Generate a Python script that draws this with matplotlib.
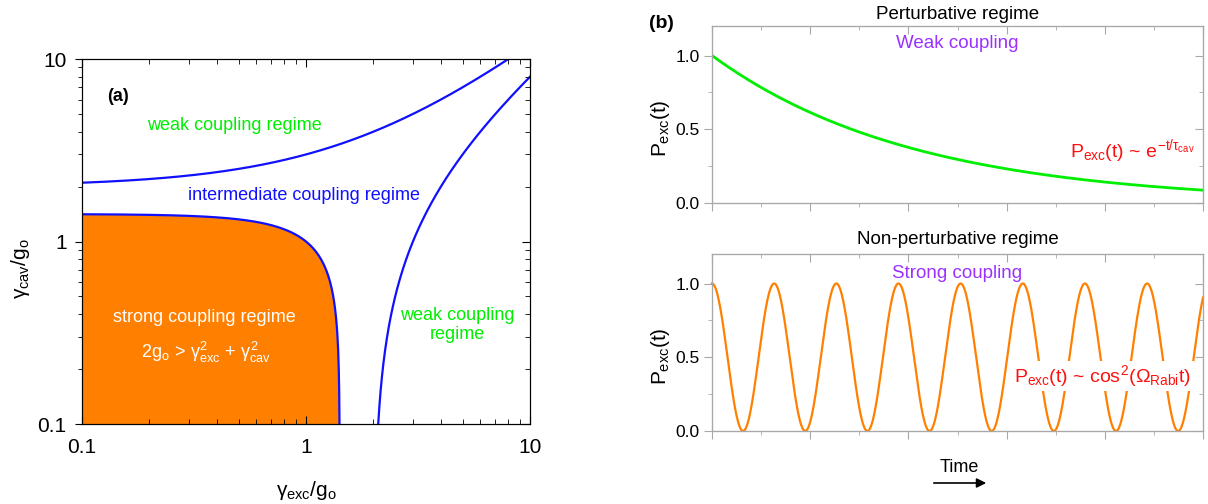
import numpy as np
import matplotlib
matplotlib.use('Agg')
import matplotlib.pyplot as plt
from matplotlib.ticker import LogLocator, FuncFormatter, MultipleLocator, NullFormatter

plt.rcParams['font.family'] = ['Liberation Sans', 'DejaVu Sans']
plt.rcParams['mathtext.fontset'] = 'custom'
plt.rcParams['mathtext.rm'] = 'Liberation Sans'
plt.rcParams['mathtext.it'] = 'Liberation Sans'
plt.rcParams['mathtext.sf'] = 'Liberation Sans'
plt.rcParams['mathtext.bf'] = 'Liberation Sans:bold'

# regime boundaries, in units of g_o
strong_radius = 1.414      # gamma_exc^2 + gamma_cav^2 = 2
weak_offset = 2.0          # |gamma_cav - gamma_exc| = 2
gamma_lim = [0.1, 10]

# time traces
t_end = 10.0
tau_cav = 4.1              # decay time for the exponential
omega_rabi = 2.482         # Rabi frequency for the cos^2 trace

orange = '#ff8000'
blue = '#1010ff'
green = '#00ee00'
red = '#ff1010'
purple = '#9b30ff'
grey = '#a8a8a8'

fig = plt.figure(figsize=(12.08, 5.04), dpi=100)

# ---------------- (a) coupling regimes ----------------
ax = fig.add_axes([0.0679, 0.1587, 0.3709, 0.7242])
ax.set_xscale('log')
ax.set_yscale('log')

th = np.linspace(np.arcsin(0.1 / strong_radius), np.arccos(0.1 / strong_radius), 400)
xc = strong_radius * np.cos(th)
yc = strong_radius * np.sin(th)
ax.fill(np.r_[xc, 0.1], np.r_[yc, 0.1], color=orange, lw=0)
ax.plot(xc, yc, color=blue, lw=1.6)

xu = np.geomspace(0.1, 8.5, 300)
ax.plot(xu, xu + weak_offset, color=blue, lw=1.6)
yr = np.geomspace(0.1, 8.5, 300)
ax.plot(yr + weak_offset, yr, color=blue, lw=1.6)

ax.set_xlim(gamma_lim)
ax.set_ylim(gamma_lim)

fmt = FuncFormatter(lambda v, p: '%g' % v)
for axis in [ax.xaxis, ax.yaxis]:
    axis.set_major_locator(LogLocator(base=10))
    axis.set_minor_locator(LogLocator(base=10, subs=np.arange(2, 10)))
    axis.set_major_formatter(fmt)
    axis.set_minor_formatter(NullFormatter())
ax.tick_params(axis='x', which='both', direction='in', top=True, labelsize=15, pad=10)
ax.tick_params(axis='x', which='major', length=6)
ax.tick_params(axis='x', which='minor', length=3.5)
ax.tick_params(axis='y', which='both', direction='out', labelsize=15, pad=6)
ax.tick_params(axis='y', which='major', length=5)
ax.tick_params(axis='y', which='minor', length=3)

axr = ax.twinx()
axr.set_yscale('log')
axr.set_ylim(gamma_lim)
axr.yaxis.set_minor_locator(LogLocator(base=10, subs=np.arange(2, 10)))
axr.tick_params(axis='y', which='both', direction='in', labelright=False)
axr.tick_params(axis='y', which='major', length=6)
axr.tick_params(axis='y', which='minor', length=3.5)

ax.set_xlabel(r'$\gamma_{exc}/g_o$', fontsize=15)
ax.xaxis.set_label_coords(0.5, -0.15)
ax.set_ylabel(r'$\gamma_{cav}/g_o$', fontsize=15)
ax.yaxis.set_label_coords(-0.112, 0.425)

ax.text(0.08, 0.896, '(a)', transform=ax.transAxes, fontsize=13, fontweight='bold',
        ha='center', va='center')
ax.text(0.341, 0.819, 'weak coupling regime', transform=ax.transAxes, fontsize=13,
        color=green, ha='center', va='center')
ax.text(0.496, 0.625, 'intermediate coupling regime', transform=ax.transAxes, fontsize=13,
        color=blue, ha='center', va='center')
ax.text(0.274, 0.293, 'strong coupling regime', transform=ax.transAxes, fontsize=13,
        color='white', ha='center', va='center')
ax.text(0.276, 0.195, r'$2g_o\,>\,\gamma^2_{exc}\,+\,\gamma^2_{cav}$', transform=ax.transAxes,
        fontsize=13, color='white', ha='center', va='center')
ax.text(0.837, 0.271, 'weak coupling\nregime', transform=ax.transAxes, fontsize=13,
        color=green, ha='center', va='center', linespacing=1.2)


# ---------------- (b) time evolution ----------------
def style_time_axes(a):
    a.set_xlim(0, t_end)
    a.set_ylim(0, 1.2)
    a.xaxis.set_major_locator(MultipleLocator(2))
    a.xaxis.set_minor_locator(MultipleLocator(1))
    a.yaxis.set_major_locator(MultipleLocator(0.5))
    a.yaxis.set_minor_locator(MultipleLocator(0.25))
    a.set_yticks([0, 0.5, 1.0])
    a.yaxis.set_major_formatter(FuncFormatter(lambda v, p: '%.1f' % v))
    a.tick_params(axis='both', which='both', direction='out', color=grey,
                  labelsize=12.5, pad=3)
    a.tick_params(axis='x', labelbottom=False)
    a.tick_params(which='major', length=6)
    a.tick_params(which='minor', length=3)
    for s in a.spines.values():
        s.set_color(grey)

    ar = a.twinx()
    ar.set_ylim(0, 1.2)
    ar.yaxis.set_major_locator(MultipleLocator(0.5))
    ar.yaxis.set_minor_locator(MultipleLocator(0.25))
    ar.tick_params(axis='y', which='both', direction='in', color=grey, labelright=False)
    ar.tick_params(which='major', length=6)
    ar.tick_params(which='minor', length=3)
    at = a.twiny()
    at.set_xlim(0, t_end)
    at.xaxis.set_major_locator(MultipleLocator(2))
    at.xaxis.set_minor_locator(MultipleLocator(1))
    at.tick_params(axis='x', which='both', direction='in', color=grey, labeltop=False)
    at.tick_params(which='major', length=6)
    at.tick_params(which='minor', length=3)
    for tw in [ar, at]:
        for s in tw.spines.values():
            s.set_color(grey)

    a.set_ylabel(r'$P_{exc}(t)$', fontsize=15)
    a.yaxis.set_label_coords(-0.081, 0.424)


t = np.linspace(0, t_end, 1000)

ax1 = fig.add_axes([0.5894, 0.5972, 0.4065, 0.3512])
ax1.plot(t, np.exp(-t / tau_cav), color=green, lw=2)
style_time_axes(ax1)
ax1.set_title('Perturbative regime', fontsize=13.5, pad=5)
ax1.text(5, 1.08, 'Weak coupling', color=purple, fontsize=13.5, ha='center', va='center')
ax1.text(7.29, 0.311, r'$P_{exc}(t)$ ~ $e^{-t/\tau_{cav}}$', color=red, fontsize=14,
         ha='left', va='baseline')

ax2 = fig.add_axes([0.5894, 0.1448, 0.4065, 0.3512])
ax2.plot(t, np.cos(omega_rabi * t) ** 2, color=orange, lw=1.6, clip_on=False)
style_time_axes(ax2)
ax2.set_title('Non-perturbative regime', fontsize=13.5, pad=7)
ax2.text(5, 1.07, 'Strong coupling', color=purple, fontsize=13.5, ha='center', va='center')
ax2.text(7.96, 0.331, r'$P_{exc}(t)$ ~ $cos^2(\Omega_{Rabi}t)$', color=red, fontsize=14,
         ha='center', va='baseline', zorder=5,
         bbox=dict(facecolor='white', edgecolor='none', pad=1.5))

fig.text(661 / 1208, 1 - 24 / 504, '(b)', fontsize=14, fontweight='bold',
         ha='center', va='center')
fig.text(959 / 1208, 1 - 467 / 504, 'Time', fontsize=13, ha='center', va='center')
fig.add_artist(matplotlib.patches.FancyArrowPatch(
    (931 / 1208, 1 - 483 / 504), (989 / 1208, 1 - 483 / 504),
    transform=fig.transFigure, arrowstyle='-|>', mutation_scale=14, color='black', lw=1.2))

fig.savefig('out.png', dpi=100)
